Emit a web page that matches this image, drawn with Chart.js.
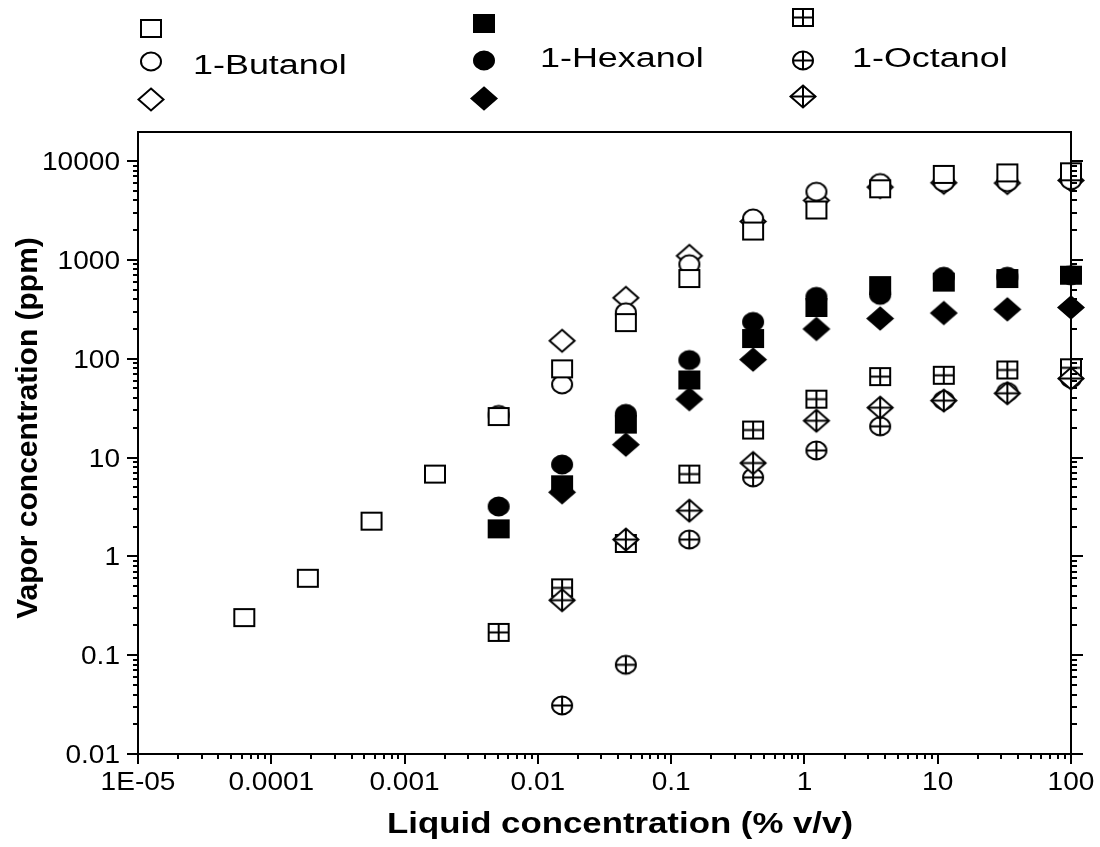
<!DOCTYPE html>
<html>
<head>
<meta charset="utf-8">
<script src="https://cdn.jsdelivr.net/npm/chart.js@4.4.1/dist/chart.umd.min.js"></script>
<style>
  html, body { margin: 0; padding: 0; background: #fff; }
  #wrap { position: relative; width: 1100px; height: 847px; }
</style>
</head>
<body>
<div id="wrap"><canvas id="c"></canvas></div>
<script>
// ---- data ----
const liquidConc = [6.27e-5, 1.88e-4, 5.65e-4, 1.69e-3, 5.08e-3, 0.0152, 0.0457, 0.137, 0.412, 1.23, 3.70, 11.1, 33.3, 100];

const butanolSquare  = [0.24, 0.60, 2.27, 6.8, 26, 79, 232, 648, 1960, 3200, 5250, 7330, 7600, 7800];
const butanolCircle  = [null, null, null, null, 27, 55, 295, 904, 2630, 4900, 6000, 6100, 6100, 6400];
const butanolDiamond = [null, null, null, null, null, 152, 413, 1100, 2450, 4000, 5460, 6030, 6000, 6380];

const hexanolSquare  = [null, null, null, null, 1.9, 5.3, 21.8, 61, 160, 330, 550, 596, 648, 700];
const hexanolCircle  = [null, null, null, null, 3.2, 8.5, 27.7, 97, 236, 423, 443, 676, 676, 700];
const hexanolDiamond = [null, null, null, null, null, 4.45, 13.5, 39, 98, 200, 255, 290, 316, 330];

const octanolSquare  = [null, null, null, null, 0.17, 0.48, 1.35, 6.8, 19, 39, 66, 68, 77, 81];
const octanolCircle  = [null, null, null, null, null, 0.031, 0.08, 1.48, 6.3, 11.8, 20.7, 38, 46, 63];
const octanolDiamond = [null, null, null, null, null, 0.36, 1.48, 2.9, 8.8, 23.6, 32, 37.7, 44.7, 63];

const seriesNames = ['1-Butanol', '1-Hexanol', '1-Octanol'];
const xTickValues = [1e-5, 1e-4, 1e-3, 1e-2, 0.1, 1, 10, 100];
const xTickLabels = ['1E-05', '0.0001', '0.001', '0.01', '0.1', '1', '10', '100'];
const yTickValues = [0.01, 0.1, 1, 10, 100, 1000, 10000];
const yTickLabels = ['0.01', '0.1', '1', '10', '100', '1000', '10000'];
const xTitle = 'Liquid concentration (% v/v)';
const yTitle = 'Vapor concentration (ppm)';

// ---- marker images ----
function makeMarker(shape, filled, crossed) {
  const W = shape === 'diamond' ? 30 : 26, H = shape === 'diamond' ? 27 : 23;
  const c = document.createElement('canvas'); c.width = W; c.height = H;
  const g = c.getContext('2d');
  const cx = W / 2, cy = H / 2;
  let w, h;
  if (shape === 'square') { w = 22; h = 19; }
  else if (shape === 'circle') { w = 22; h = 20; }
  else { w = 27; h = 24; }
  g.lineWidth = 2; g.strokeStyle = '#000'; g.fillStyle = filled ? '#000' : '#fff';
  g.beginPath();
  if (shape === 'square') g.rect(cx - w / 2 + 1, cy - h / 2 + 1, w - 2, h - 2);
  else if (shape === 'circle') g.ellipse(cx, cy, w / 2 - 1, h / 2 - 1, 0, 0, Math.PI * 2);
  else { g.moveTo(cx, cy - h / 2 + 1); g.lineTo(cx + w / 2 - 1, cy); g.lineTo(cx, cy + h / 2 - 1); g.lineTo(cx - w / 2 + 1, cy); g.closePath(); }
  g.fill(); g.stroke();
  if (crossed) {
    g.beginPath();
    g.moveTo(cx - w / 2 + 1, cy); g.lineTo(cx + w / 2 - 1, cy);
    g.moveTo(cx, cy - h / 2 + 1); g.lineTo(cx, cy + h / 2 - 1);
    g.stroke();
  }
  return c;
}
const M = {
  oSq: makeMarker('square', false, false), oCi: makeMarker('circle', false, false), oDi: makeMarker('diamond', false, false),
  fSq: makeMarker('square', true, false),  fCi: makeMarker('circle', true, false),  fDi: makeMarker('diamond', true, false),
  xSq: makeMarker('square', false, true),  xCi: makeMarker('circle', false, true),  xDi: makeMarker('diamond', false, true)
};

function pts(vals) {
  const out = [];
  vals.forEach((v, i) => { if (v !== null) out.push({ x: liquidConc[i], y: v }); });
  return out;
}
function ds(label, vals, marker) {
  return { label, data: pts(vals), pointStyle: marker, pointRadius: 11, pointHoverRadius: 11, clip: false, showLine: false };
}

// first dataset is painted on top
const datasets = [
  ds('1-Butanol square', butanolSquare, M.oSq),
  ds('1-Butanol circle', butanolCircle, M.oCi),
  ds('1-Butanol diamond', butanolDiamond, M.oDi),
  ds('1-Hexanol square', hexanolSquare, M.fSq),
  ds('1-Hexanol circle', hexanolCircle, M.fCi),
  ds('1-Hexanol diamond', hexanolDiamond, M.fDi),
  ds('1-Octanol diamond', octanolDiamond, M.xDi),
  ds('1-Octanol square', octanolSquare, M.xSq),
  ds('1-Octanol circle', octanolCircle, M.xCi)
];

const FONT = '"Liberation Sans", Arial, Helvetica, sans-serif';
function wideText(ctx, text, x, y, sx, align, font, rot) {
  ctx.save();
  ctx.translate(x, y);
  if (rot) ctx.rotate(rot);
  ctx.scale(sx, 1);
  ctx.font = font;
  ctx.textAlign = align;
  ctx.textBaseline = 'alphabetic';
  ctx.fillStyle = '#000';
  ctx.fillText(text, 0, 0);
  ctx.restore();
}

const decor = {
  id: 'decor',
  afterDraw(chart) {
    const { ctx, chartArea: a, scales: { x, y } } = chart;
    ctx.save();
    ctx.strokeStyle = '#000';
    ctx.lineWidth = 2;
    ctx.lineCap = 'butt';
    ctx.strokeRect(a.left, a.top, a.right - a.left, a.bottom - a.top);
    const line = (x1, y1, x2, y2) => { ctx.beginPath(); ctx.moveTo(x1, y1); ctx.lineTo(x2, y2); ctx.stroke(); };
    for (let e = -5; e <= 2; e++) {
      for (let m = 1; m <= 9; m++) {
        const v = m * Math.pow(10, e);
        if (v > 100.0001) break;
        const px = Math.round(x.getPixelForValue(v));
        line(px, a.bottom, px, a.bottom + (m === 1 ? 10 : 5));
      }
    }
    for (let e = -2; e <= 4; e++) {
      for (let m = 1; m <= 9; m++) {
        const v = m * Math.pow(10, e);
        if (v > y.max) break;
        const py = Math.round(y.getPixelForValue(v));
        const L = m === 1 ? 11 : 5;
        line(a.left - L, py, a.left, py);
        line(a.right, py, a.right + L + 1, py);
      }
    }
    ctx.restore();
    const tickFont = '25.5px ' + FONT;
    xTickValues.forEach((v, i) => {
      wideText(ctx, xTickLabels[i], x.getPixelForValue(v), 790, 1.1, 'center', tickFont);
    });
    yTickValues.forEach((v, i) => {
      wideText(ctx, yTickLabels[i], 120, y.getPixelForValue(v) + 9, 1.1, 'right', tickFont);
    });
    const titleFont = 'bold 29px ' + FONT;
    wideText(ctx, xTitle, 620, 833, 1.2, 'center', titleFont);
    wideText(ctx, yTitle, 37, 428, 1.0, 'center', 'bold 30px ' + FONT, -Math.PI / 2);
    const legend = [
      { x: 151, ys: [28, 61, 99], mk: [M.oSq, M.oCi, M.oDi], tx: 193, ty: 74 },
      { x: 484, ys: [23, 60, 98], mk: [M.fSq, M.fCi, M.fDi], tx: 540, ty: 67 },
      { x: 803, ys: [17, 60, 96], mk: [M.xSq, M.xCi, M.xDi], tx: 852, ty: 67 }
    ];
    legend.forEach((col, k) => {
      col.mk.forEach((img, j) => {
        ctx.drawImage(img, Math.round(col.x - img.width / 2), Math.round(col.ys[j] - img.height / 2));
      });
      wideText(ctx, seriesNames[k], col.tx, col.ty, 1.33, 'left', '27px ' + FONT);
    });
  }
};

new Chart(document.getElementById('c'), {
  type: 'scatter',
  data: { datasets },
  options: {
    responsive: true,
    maintainAspectRatio: false,
    animation: false,
    events: [],
    layout: { padding: { left: 138, right: 29, top: 132, bottom: 93 } },
    plugins: { legend: { display: false }, tooltip: { enabled: false }, title: { display: false } },
    scales: {
      x: { type: 'logarithmic', min: 1e-5, max: 100, display: false },
      y: { type: 'logarithmic', min: 0.01, max: 19700, display: false }
    }
  },
  plugins: [decor]
});
</script>
</body>
</html>
